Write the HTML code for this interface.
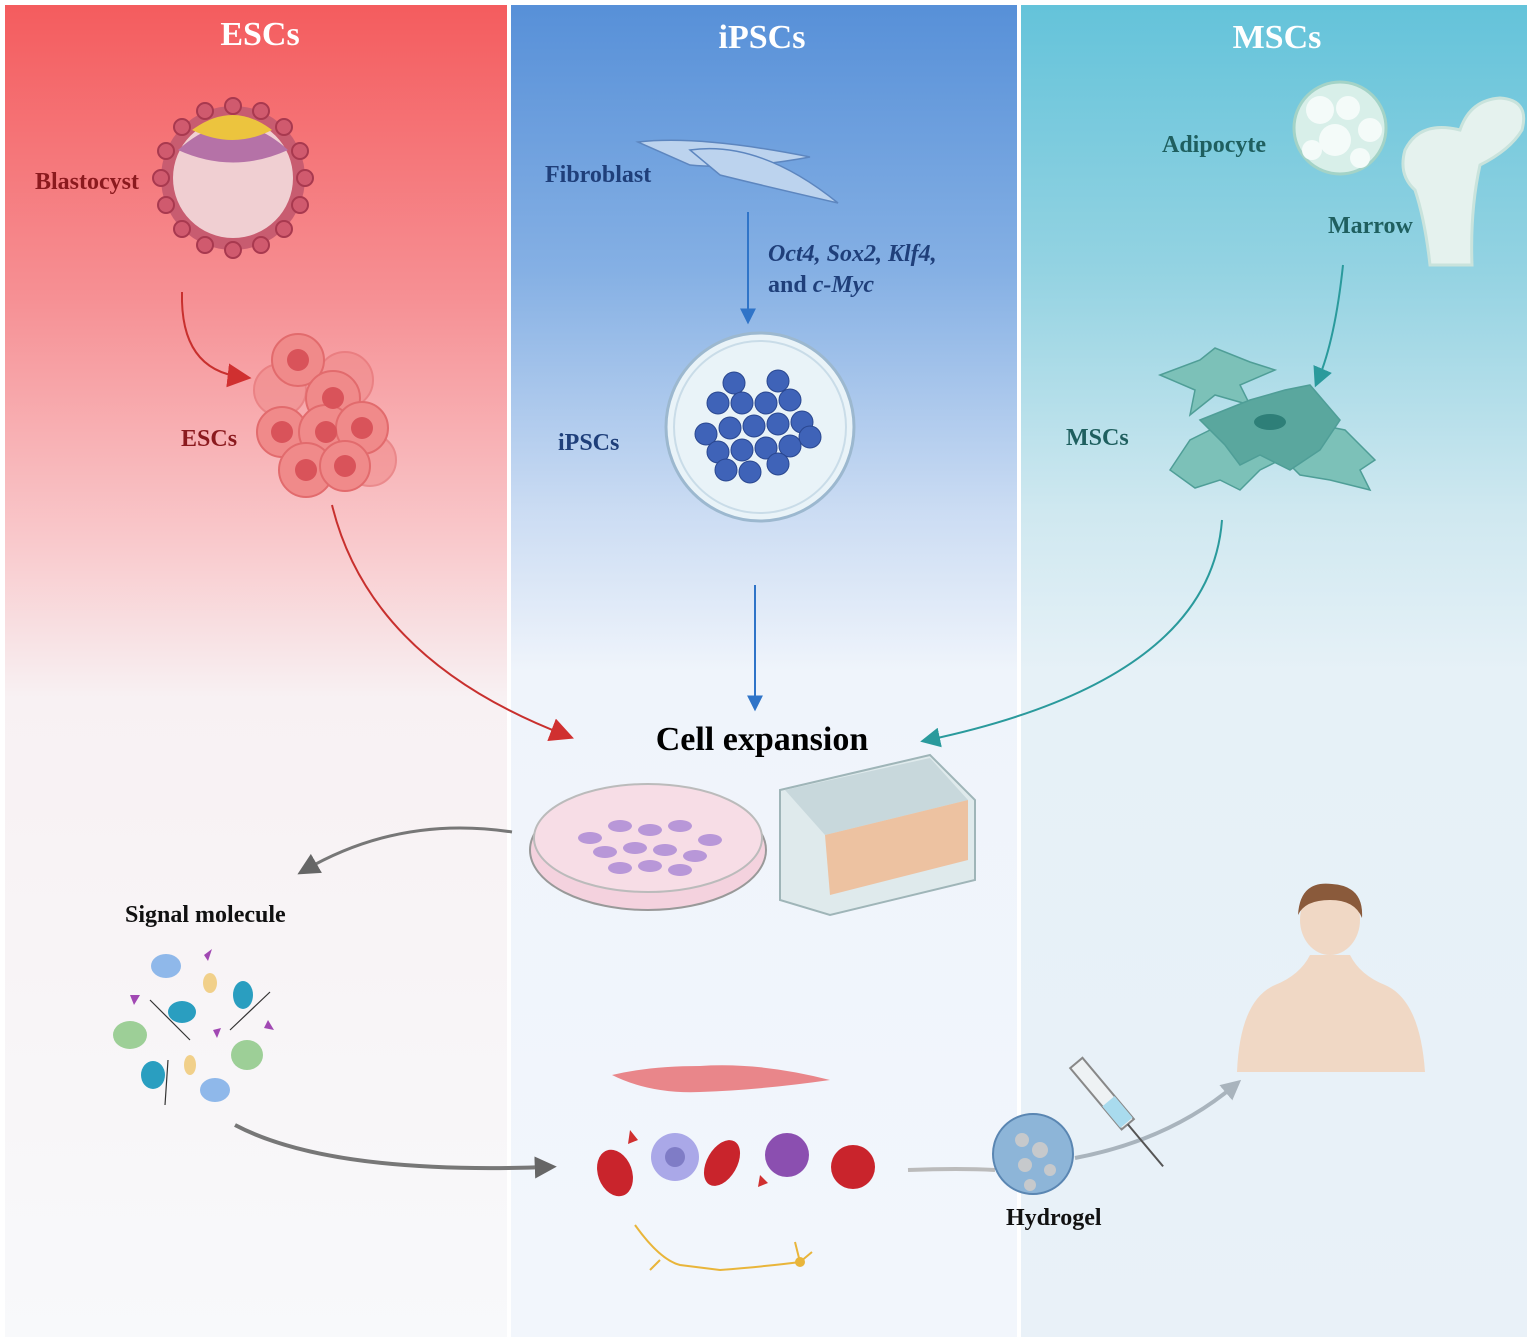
<!DOCTYPE html>
<html><head><meta charset="utf-8"><style>
html,body{margin:0;padding:0;background:#fff}
svg{display:block}
text{font-family:"Liberation Serif",serif}
</style></head><body>
<svg width="1532" height="1343" viewBox="0 0 1532 1343" xmlns="http://www.w3.org/2000/svg">
<defs>
<linearGradient id="gr" x1="0" y1="0" x2="0" y2="1">
<stop offset="0" stop-color="#f45c5e"/><stop offset="0.22" stop-color="#f69094"/><stop offset="0.4" stop-color="#f9c8cb"/><stop offset="0.52" stop-color="#f8f1f3"/><stop offset="1" stop-color="#f8f9fb"/></linearGradient>
<linearGradient id="gb" x1="0" y1="0" x2="0" y2="1">
<stop offset="0" stop-color="#5790d8"/><stop offset="0.2" stop-color="#85b0e4"/><stop offset="0.38" stop-color="#cbdcf3"/><stop offset="0.5" stop-color="#eff4fb"/><stop offset="1" stop-color="#f2f6fc"/></linearGradient>
<linearGradient id="gt" x1="0" y1="0" x2="0" y2="1">
<stop offset="0" stop-color="#64c3da"/><stop offset="0.2" stop-color="#94d3e2"/><stop offset="0.38" stop-color="#cfe8f0"/><stop offset="0.5" stop-color="#e6f1f7"/><stop offset="1" stop-color="#e9f1f8"/></linearGradient>
<marker id="ab" viewBox="0 0 10 10" refX="6" refY="5" markerWidth="16" markerHeight="18" orient="auto" markerUnits="userSpaceOnUse"><path d="M0,0L10,5L0,10z" fill="#2f74c8"/></marker>
<marker id="at" viewBox="0 0 10 10" refX="6" refY="5" markerWidth="20" markerHeight="20" orient="auto" markerUnits="userSpaceOnUse"><path d="M0,0L10,5L0,10z" fill="#2a9a9c"/></marker>
<marker id="ag" viewBox="0 0 10 10" refX="6" refY="5" markerWidth="22" markerHeight="22" orient="auto" markerUnits="userSpaceOnUse"><path d="M0,0L10,5L0,10z" fill="#666"/></marker>
<marker id="agl" viewBox="0 0 10 10" refX="6" refY="5" markerWidth="20" markerHeight="20" orient="auto" markerUnits="userSpaceOnUse"><path d="M0,0L10,5L0,10z" fill="#a9b4bd"/></marker>
<marker id="arr" viewBox="0 0 10 10" refX="6" refY="5" markerWidth="24" markerHeight="24" orient="auto" markerUnits="userSpaceOnUse"><path d="M0,0L10,5L0,10z" fill="#d03030"/></marker>
</defs>
<rect width="1532" height="1343" fill="#fff"/>
<rect x="5" y="5" width="502" height="1332" fill="url(#gr)"/>
<rect x="511" y="5" width="506" height="1332" fill="url(#gb)"/>
<rect x="1021" y="5" width="506" height="1332" fill="url(#gt)"/>
<g font-size="34" fill="#fff" text-anchor="middle" font-weight="bold">
<text x="260" y="45">ESCs</text><text x="762" y="48">iPSCs</text><text x="1277" y="48">MSCs</text></g>

<!-- blastocyst -->
<circle cx="233" cy="178" r="72" fill="#c85c70"/>
<circle cx="233" cy="178" r="60" fill="#f0cfd2"/>
<path d="M178,150 Q233,100 288,150 Q233,175 178,150z" fill="#b572a7"/>
<path d="M192,130 Q233,100 272,130 Q233,150 192,130z" fill="#ecc43e"/>
<g fill="#d05a6e" stroke="#a8394f" stroke-width="2">
<circle cx="233" cy="106" r="8"/><circle cx="233" cy="250" r="8"/><circle cx="161" cy="178" r="8"/><circle cx="305" cy="178" r="8"/>
<circle cx="182" cy="127" r="8"/><circle cx="284" cy="127" r="8"/><circle cx="182" cy="229" r="8"/><circle cx="284" cy="229" r="8"/>
<circle cx="205" cy="111" r="8"/><circle cx="261" cy="111" r="8"/><circle cx="205" cy="245" r="8"/><circle cx="261" cy="245" r="8"/>
<circle cx="166" cy="151" r="8"/><circle cx="300" cy="151" r="8"/><circle cx="166" cy="205" r="8"/><circle cx="300" cy="205" r="8"/></g>
<g font-weight="bold">
<text x="35" y="189" font-size="24" fill="#8b1a1e">Blastocyst</text>
<text x="181" y="446" font-size="24" fill="#8b1a1e">ESCs</text>
<text x="545" y="182" font-size="24" fill="#1f3f7a">Fibroblast</text>
<text x="558" y="450" font-size="24" fill="#1f3f7a">iPSCs</text>
<text x="1162" y="152" font-size="24" fill="#1f5f5f">Adipocyte</text>
<text x="1328" y="233" font-size="24" fill="#1f5f5f">Marrow</text>
<text x="1066" y="445" font-size="24" fill="#1f5f5f">MSCs</text>
<text x="762" y="750" font-size="34" fill="#000" text-anchor="middle">Cell expansion</text>
<text x="125" y="922" font-size="24" fill="#111">Signal molecule</text>
<text x="1006" y="1225" font-size="24" fill="#111">Hydrogel</text>
</g>
<path d="M182,292 Q180,370 242,377" fill="none" stroke="#c8302e" stroke-width="2" marker-end="url(#arr)"/>
<!-- ESC cluster -->
<g fill="#f08a8a" stroke="#e26b6d" stroke-width="2">
<circle cx="345" cy="380" r="28" opacity=".6"/><circle cx="280" cy="390" r="26" opacity=".6"/><circle cx="370" cy="460" r="26" opacity=".6"/>
<circle cx="298" cy="360" r="26"/><circle cx="333" cy="398" r="27"/><circle cx="282" cy="432" r="25"/><circle cx="326" cy="432" r="27"/><circle cx="362" cy="428" r="26"/><circle cx="306" cy="470" r="27"/><circle cx="345" cy="466" r="25"/></g>
<g fill="#d9535a"><circle cx="298" cy="360" r="11"/><circle cx="333" cy="398" r="11"/><circle cx="282" cy="432" r="11"/><circle cx="326" cy="432" r="11"/><circle cx="362" cy="428" r="11"/><circle cx="306" cy="470" r="11"/><circle cx="345" cy="466" r="11"/></g>
<path d="M332,505 Q370,660 565,735" fill="none" stroke="#c8302e" stroke-width="2" marker-end="url(#arr)"/>

<!-- fibroblast -->
<g fill="#bcd3ee" stroke="#5d86bf" stroke-width="1.5">
<path d="M638,142 Q700,135 810,157 Q740,170 690,165z"/><path d="M690,150 Q760,140 838,203 Q760,185 720,175z"/></g>
<line x1="748" y1="212" x2="748" y2="318" stroke="#2f74c8" stroke-width="2" marker-end="url(#ab)"/>
<g font-size="24" fill="#1f3f7a" font-weight="bold"><text x="768" y="261" font-style="italic">Oct4, Sox2, Klf4,</text><text x="768" y="292">and <tspan font-style="italic">c-Myc</tspan></text></g>
<circle cx="760" cy="427" r="94" fill="#e9f3f8" stroke="#9cb8cf" stroke-width="3"/>
<circle cx="760" cy="427" r="86" fill="none" stroke="#c9dce8" stroke-width="2"/>
<g fill="#3f63b8" stroke="#2a4790" stroke-width="1">
<circle cx="734" cy="383" r="11"/><circle cx="778" cy="381" r="11"/><circle cx="718" cy="403" r="11"/><circle cx="742" cy="403" r="11"/><circle cx="766" cy="403" r="11"/><circle cx="790" cy="400" r="11"/>
<circle cx="706" cy="434" r="11"/><circle cx="730" cy="428" r="11"/><circle cx="754" cy="426" r="11"/><circle cx="778" cy="424" r="11"/><circle cx="802" cy="422" r="11"/><circle cx="810" cy="437" r="11"/>
<circle cx="718" cy="452" r="11"/><circle cx="742" cy="450" r="11"/><circle cx="766" cy="448" r="11"/><circle cx="790" cy="446" r="11"/>
<circle cx="726" cy="470" r="11"/><circle cx="750" cy="472" r="11"/><circle cx="778" cy="464" r="11"/></g>
<line x1="755" y1="585" x2="755" y2="705" stroke="#2f74c8" stroke-width="2" marker-end="url(#ab)"/>

<!-- MSCs -->
<circle cx="1340" cy="128" r="46" fill="#d8efe9" stroke="#a4d3c7" stroke-width="3"/>
<g fill="#f4fbf9"><circle cx="1320" cy="110" r="14"/><circle cx="1348" cy="108" r="12"/><circle cx="1370" cy="130" r="12"/><circle cx="1335" cy="140" r="16"/><circle cx="1312" cy="150" r="10"/><circle cx="1360" cy="158" r="10"/></g>
<path d="M1405,150 Q1420,120 1460,130 Q1470,100 1500,98 Q1530,100 1522,130 Q1510,150 1480,165 Q1470,210 1472,265 L1430,265 Q1425,220 1415,190 Q1398,175 1405,150z" fill="#e5f2ee" stroke="#c9e3dc" stroke-width="3"/>
<path d="M1343,265 Q1335,340 1318,380" fill="none" stroke="#2a9a9c" stroke-width="2" marker-end="url(#at)"/>
<g fill="#7cc1b8" stroke="#4f9e97" stroke-width="1.5">
<path d="M1160,375 L1200,360 L1215,348 L1250,362 L1275,370 L1240,385 L1250,405 L1215,395 L1190,415 L1195,390z"/>
<path d="M1170,470 L1190,440 L1210,430 L1255,445 L1280,460 L1260,470 L1240,490 L1220,480 L1195,488z"/>
<path d="M1270,440 L1320,425 L1345,430 L1375,460 L1360,470 L1370,490 L1330,480 L1300,475 L1285,460z"/>
<path d="M1200,420 L1250,400 L1285,390 L1310,385 L1340,420 L1320,450 L1290,470 L1260,455 L1240,465 L1225,445z" fill="#5aa79e"/></g>
<ellipse cx="1270" cy="422" rx="16" ry="8" fill="#2e7f78"/>
<path d="M1222,520 Q1210,680 928,740" fill="none" stroke="#2a9a9c" stroke-width="2" marker-end="url(#at)"/>

<!-- petri dish -->
<ellipse cx="648" cy="850" rx="118" ry="60" fill="#f4d2de" stroke="#999" stroke-width="2"/>
<ellipse cx="648" cy="838" rx="114" ry="54" fill="#f7dde6" stroke="#bbb" stroke-width="2"/>
<g fill="#b897d8">
<ellipse cx="590" cy="838" rx="12" ry="6"/><ellipse cx="620" cy="826" rx="12" ry="6"/><ellipse cx="650" cy="830" rx="12" ry="6"/><ellipse cx="680" cy="826" rx="12" ry="6"/><ellipse cx="710" cy="840" rx="12" ry="6"/>
<ellipse cx="605" cy="852" rx="12" ry="6"/><ellipse cx="635" cy="848" rx="12" ry="6"/><ellipse cx="665" cy="850" rx="12" ry="6"/><ellipse cx="695" cy="856" rx="12" ry="6"/>
<ellipse cx="620" cy="868" rx="12" ry="6"/><ellipse cx="650" cy="866" rx="12" ry="6"/><ellipse cx="680" cy="870" rx="12" ry="6"/></g>
<!-- well plate -->
<path d="M780,790 L930,755 L975,800 L975,880 L830,915 L780,900z" fill="#dfeaec" stroke="#9fb5b8" stroke-width="2"/>
<path d="M785,790 L930,758 L968,800 L825,835z" fill="#c8d8dc"/>
<path d="M825,835 L968,800 L968,860 L830,895z" fill="#f0b88e" opacity=".8"/>
<!-- signal molecule -->
<path d="M512,832 Q400,815 305,870" fill="none" stroke="#777" stroke-width="3" marker-end="url(#ag)"/>
<g>
<ellipse cx="166" cy="966" rx="15" ry="12" fill="#8fb8ea"/><ellipse cx="215" cy="1090" rx="15" ry="12" fill="#8fb8ea"/>
<ellipse cx="130" cy="1035" rx="17" ry="14" fill="#9dcf97"/><ellipse cx="247" cy="1055" rx="16" ry="15" fill="#9dcf97"/>
<ellipse cx="182" cy="1012" rx="14" ry="11" fill="#2a9ec0"/><ellipse cx="243" cy="995" rx="10" ry="14" fill="#2a9ec0"/><ellipse cx="153" cy="1075" rx="12" ry="14" fill="#2a9ec0"/>
<ellipse cx="210" cy="983" rx="7" ry="10" fill="#f1d08a"/><ellipse cx="190" cy="1065" rx="6" ry="10" fill="#f1d08a"/>
<path d="M204,955 l8,-6 l-4,12z M130,995 l10,0 l-6,10z M268,1020 l6,10 l-10,-2z M213,1030 l8,-2 l-4,10z" fill="#a148b3"/>
<path d="M150,1000 L190,1040 M230,1030 L270,992 M168,1060 L165,1105" stroke="#333" stroke-width="1.2" fill="none"/></g>
<path d="M235,1125 Q330,1175 548,1167" fill="none" stroke="#777" stroke-width="4" marker-end="url(#ag)"/>
<!-- cells -->
<path d="M612,1075 Q650,1066 700,1066 Q760,1062 830,1080 Q760,1090 700,1092 Q650,1094 612,1075z" fill="#e9868a"/>
<g fill="#c9242c"><ellipse cx="615" cy="1173" rx="17" ry="24" transform="rotate(-20 615 1173)"/><ellipse cx="722" cy="1163" rx="15" ry="25" transform="rotate(30 722 1163)"/><ellipse cx="853" cy="1167" rx="22" ry="22"/></g>
<circle cx="675" cy="1157" r="24" fill="#aaa8e8"/><circle cx="675" cy="1157" r="10" fill="#7f7cc6"/>
<circle cx="787" cy="1155" r="22" fill="#8b4fb0"/>
<path d="M630,1130 l8,10 l-10,4z M760,1175 l8,8 l-10,4z" fill="#d03030"/>
<path d="M635,1225 Q660,1260 680,1265 L720,1270 Q770,1266 800,1262 M800,1262 l-5,-20 M800,1262 l12,-10 M660,1260 L650,1270" fill="none" stroke="#e9b53a" stroke-width="2"/>
<circle cx="800" cy="1262" r="5" fill="#e9b53a"/>
<!-- hydrogel & human -->
<path d="M908,1170 Q960,1168 995,1170" fill="none" stroke="#bbb" stroke-width="4"/>
<circle cx="1033" cy="1154" r="40" fill="#8db5d8" stroke="#5a86b2" stroke-width="2"/>
<g fill="#c6c9cc"><circle cx="1022" cy="1140" r="7"/><circle cx="1040" cy="1150" r="8"/><circle cx="1025" cy="1165" r="7"/><circle cx="1050" cy="1170" r="6"/><circle cx="1030" cy="1185" r="6"/></g>
<path d="M1075,1158 Q1170,1140 1235,1085" fill="none" stroke="#a9b4bd" stroke-width="4" marker-end="url(#agl)"/>
<g transform="rotate(-40 1110 1100)"><rect x="1100" y="1050" width="16" height="80" fill="#eef2f4" stroke="#888" stroke-width="2"/><line x1="1108" y1="1130" x2="1108" y2="1185" stroke="#555" stroke-width="2"/><rect x="1100" y="1100" width="16" height="28" fill="#a9dbee"/></g>
<path d="M1237,1072 Q1240,1000 1275,985 Q1300,975 1310,955 L1350,955 Q1360,975 1385,985 Q1420,1000 1425,1072z" fill="#f0d8c5"/>
<ellipse cx="1330" cy="920" rx="30" ry="35" fill="#f0d8c5"/>
<path d="M1298,915 Q1300,880 1332,884 Q1364,886 1362,918 Q1355,900 1330,900 Q1305,900 1298,915z" fill="#8a5a3b"/>
</svg>
</body></html>
